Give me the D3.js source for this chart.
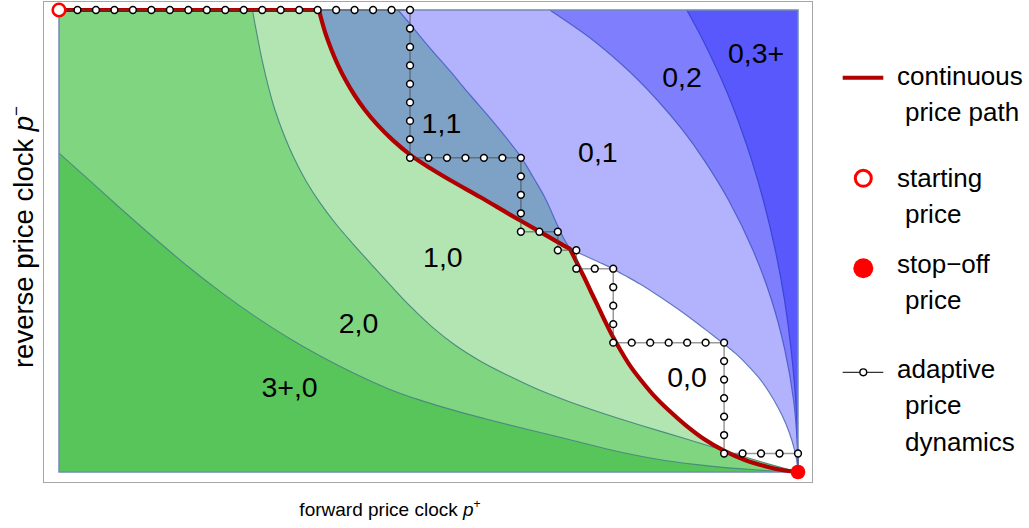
<!DOCTYPE html>
<html><head><meta charset="utf-8">
<script src="https://cdn.jsdelivr.net/npm/d3@7"></script>
<style>
body{margin:0;background:#fff}
svg{display:block}
text{font-family:"Liberation Sans",Arial,Helvetica,sans-serif;fill:#000}
</style>
</head><body>
<svg id="chart" width="1029" height="528"></svg>
<script>
// ---- data (p+ on x: 0..40 clock steps, p- on y: 0..25 clock steps) ----
const xDomain = [0, 40];
const yDomain = [0, 25];

// boundary 3+,0 | 2,0
const boundaryA = [[0,17.26],[1.68,15.75],[3.41,14.19],[5.20,12.62],[6.98,11.12],[8.82,9.69],[10.61,8.42],[12.50,7.21],[14.24,6.22],[16.02,5.31],[17.81,4.51],[19.54,3.89],[21.43,3.32],[23.33,2.81],[25.49,2.27],[27.93,1.68],[30.37,1.08],[32.80,0.62],[35.24,0.32],[37.67,0.12],[40,0]];
// boundary 2,0 | 1,0
const boundaryB = [[10.47,25],[10.72,23.65],[10.99,22.30],[11.31,20.94],[11.69,19.59],[12.18,18.24],[12.72,16.99],[13.37,15.75],[14.13,14.56],[14.99,13.42],[15.97,12.28],[16.94,11.20],[17.97,10.07],[19.05,8.93],[20.19,7.85],[21.43,6.87],[22.79,6.01],[24.25,5.25],[25.87,4.49],[27.66,3.79],[29.55,3.14],[31.61,2.49],[33.78,1.84],[35.89,1.19],[37.94,0.57],[40,0]];
// boundary 1,1 | 0,1
const boundaryD = [[18.35,25],[19.0,24.24],[20.08,22.94],[21.16,21.70],[22.25,20.40],[23.38,19.10],[24.30,17.97],[25.0,17.05],[25.66,15.96],[26.31,14.83],[26.90,13.53],[27.28,12.72],[27.66,12.07]];
// boundary 0,0 | 0,1
const boundaryE = [[27.66,12.07],[28.20,11.82],[28.85,11.53],[29.44,11.26],[29.99,10.99],[30.64,10.63],[31.45,10.17],[32.26,9.66],[33.07,9.12],[33.88,8.55],[34.70,7.93],[35.34,7.44],[36.0,6.93],[36.65,6.39],[37.29,5.76],[37.89,5.09],[38.43,4.33],[38.92,3.49],[39.35,2.60],[39.68,1.68],[39.90,0.81],[40,0]];
// boundary 0,1 | 0,2
const boundaryF = [[26.56,25],[28.89,23.38],[30.79,21.75],[32.38,20.13],[33.75,18.51],[34.92,16.88],[36.24,14.72],[37.56,12.01],[38.57,9.31],[39.29,6.60],[39.76,3.90],[39.95,1.73],[40,0]];
// boundary 0,2 | 0,3+
const boundaryG = [[33.98,25],[34.85,23.38],[35.63,21.75],[36.33,20.13],[36.94,18.51],[37.49,16.88],[38.12,14.72],[38.77,12.01],[39.27,9.31],[39.63,6.60],[39.91,3.35],[40,0]];

// continuous price path
const pathTop = [[0,25],[14.07,25]];
const pathUpper = [[14.07,25],[14.21,24.46],[14.45,23.65],[14.75,22.84],[15.10,22.02],[15.51,21.21],[15.99,20.40],[16.56,19.59],[17.24,18.78],[18.05,17.97],[19.03,17.15],[20.08,16.45],[21.16,15.80],[22.79,14.88],[24.41,13.93],[26.04,12.99],[27.12,12.37],[27.66,12.07]];
const pathLower = [[27.66,12.07],[28.04,11.31],[28.42,10.55],[28.80,9.74],[29.17,8.98],[29.55,8.17],[29.93,7.41],[30.37,6.63],[30.85,5.84],[31.45,5.03],[32.15,4.19],[32.96,3.38],[33.88,2.57],[34.91,1.79],[35.99,1.16],[37.13,0.65],[38.27,0.30],[39.13,0.11],[40,0]];

// adaptive price dynamics (clock steps)
const adaptive = [[0,25],[1,25],[2,25],[3,25],[4,25],[5,25],[6,25],[7,25],[8,25],[9,25],[10,25],[11,25],[12,25],[13,25],[14,25],[15,25],[16,25],[17,25],[18,25],[19,25],
  [19,24],[19,23],[19,22],[19,21],[19,20],[19,19],[19,18],[19,17],
  [20,17],[21,17],[22,17],[23,17],[24,17],[25,17],
  [25,16],[25,15],[25,14],[25,13],[26,13],[27,13],[27,12],[28,12],[28,11],[29,11],[30,11],
  [30,10],[30,9],[30,8],[30,7],[31,7],[32,7],[33,7],[34,7],[35,7],[36,7],
  [36,6],[36,5],[36,4],[36,3],[36,2],[36,1],[37,1],[38,1],[39,1],[40,1],[40,0]];
const startPrice = [0,25];
const stopPrice = [40,0];

const regionNames = ["3+,0","2,0","1,0","1,1","0,0","0,1","0,2","0,3+"];
const regionLabelX = [12.48,16.21,20.78,20.70,33.99,29.17,33.72,37.73];
const regionLabelY = [4.04,7.54,11.09,18.33,4.62,16.79,20.82,22.12];

const legendItems = [["continuous","price path"],["starting","price"],["stop\u2212off","price"],["adaptive","price","dynamics"]];

// ---- drawing ----
const svg = d3.select("#chart");
const x = d3.scaleLinear().domain(xDomain).range([59, 798]);
const y = d3.scaleLinear().domain(yDomain).range([472, 10]);
const gen = d3.line().x(d => x(d[0])).y(d => y(d[1])).curve(d3.curveCatmullRom.alpha(0.5));
const rev = a => a.slice().reverse();
function joined(pieces, close) {
  const s = pieces.map((p, i) => { const g = gen(p); return i === 0 ? g : "L" + g.slice(1); }).join("");
  return close ? s + "Z" : s;
}
const leftEdge = [[0,0],[0,25]];

const col = {"3+,0":"#58c55a","2,0":"#80d580","1,0":"#b3e5b3","1,1":"#7ea2c6","0,0":"#ffffff","0,1":"#b3b3fd","0,2":"#7f7ffd","0,3+":"#5858fd"};

// outer frame
svg.append("rect").attr("x",43.5).attr("y",1.5).attr("width",769).attr("height",481)
  .attr("fill","none").attr("stroke","#a6a6a6").attr("stroke-width",1);

const plot = svg.append("g");
plot.append("rect").attr("x",x(0)).attr("y",y(25)).attr("width",x(40)-x(0)).attr("height",y(0)-y(25)).attr("fill",col["0,3+"]);
plot.append("path").attr("d", joined([leftEdge, boundaryG], true)).attr("fill", col["0,2"]);
plot.append("path").attr("d", joined([leftEdge, boundaryF], true)).attr("fill", col["0,1"]);
plot.append("path").attr("d", joined([pathUpper, rev(boundaryD)], true)).attr("fill", col["1,1"]);
plot.append("path").attr("d", joined([pathLower, rev(boundaryE)], true)).attr("fill", col["0,0"]);
plot.append("path").attr("d", joined([leftEdge, pathTop, pathUpper, pathLower], true)).attr("fill", col["1,0"]);
plot.append("path").attr("d", joined([leftEdge, boundaryB], true)).attr("fill", col["2,0"]);
plot.append("path").attr("d", joined([[[0,0],[0,0]], boundaryA], true)).attr("fill", col["3+,0"]);

// boundary lines
[[boundaryA,"#4a8c7e"],[boundaryB,"#4a8c7e"]].forEach(([b,c]) =>
  plot.append("path").attr("d", gen(b)).attr("fill","none").attr("stroke",c).attr("stroke-width",1.1));
[[boundaryD,"#5268cc"],[boundaryE,"#6079c2"],[boundaryF,"#4f5fcc"],[boundaryG,"#3b46d6"]].forEach(([b,c]) =>
  plot.append("path").attr("d", gen(b)).attr("fill","none").attr("stroke",c).attr("stroke-width",1.2));

// plot border
plot.append("rect").attr("x",x(0)).attr("y",y(25)).attr("width",x(40)-x(0)).attr("height",y(0)-y(25))
  .attr("fill","none").attr("stroke","#7389b6").attr("stroke-width",1.5);

// region labels
regionNames.forEach((n, i) => {
  svg.append("text").attr("x", x(regionLabelX[i])).attr("y", y(regionLabelY[i]))
    .attr("text-anchor","middle").attr("font-size",28.5).text(n);
});

// continuous price path
svg.append("path").attr("d", joined([pathTop, pathUpper, pathLower], false))
  .attr("fill","none").attr("stroke","#b00000").attr("stroke-width",4.2)
  .attr("stroke-linejoin","round").attr("stroke-linecap","round");

// adaptive dynamics
svg.append("path").attr("d", d3.line().x(d=>x(d[0])).y(d=>y(d[1]))(adaptive))
  .attr("fill","none").attr("stroke","rgba(70,70,70,0.55)").attr("stroke-width",1.5);
svg.selectAll("circle.ad").data(adaptive.slice(1, -1)).enter().append("circle").attr("class","ad")
  .attr("cx", d => x(d[0])).attr("cy", d => y(d[1])).attr("r",3.4)
  .attr("fill","#fff").attr("stroke","#000").attr("stroke-width",1.5);

// start & stop
svg.append("circle").attr("cx",x(startPrice[0])).attr("cy",y(startPrice[1])).attr("r",6.3)
  .attr("fill","#fff").attr("stroke","#f00").attr("stroke-width",2.6);
svg.append("circle").attr("cx",x(stopPrice[0])).attr("cy",y(stopPrice[1])).attr("r",7.3).attr("fill","#f00");

// legend
const lg = svg.append("g").attr("font-size",26);
const lgBase = [85, 187, 273, 378];
const lgSymY = [77.7, 178.3, 268.3, 372.3];
legendItems.forEach((lines, i) => {
  lines.forEach((t, j) => {
    lg.append("text").attr("x", j === 0 ? 897 : 905).attr("y", lgBase[i] + j * 36.3).text(t);
  });
});
lg.append("line").attr("x1",842.7).attr("x2",883.3).attr("y1",lgSymY[0]).attr("y2",lgSymY[0]).attr("stroke","#b00000").attr("stroke-width",4);
lg.append("circle").attr("cx",863.3).attr("cy",lgSymY[1]).attr("r",8).attr("fill","#fff").attr("stroke","#f00").attr("stroke-width",3);
lg.append("circle").attr("cx",863.3).attr("cy",lgSymY[2]).attr("r",10).attr("fill","#f00");
lg.append("line").attr("x1",842.7).attr("x2",883.3).attr("y1",lgSymY[3]).attr("y2",lgSymY[3]).attr("stroke","#333").attr("stroke-width",1.2);
lg.append("circle").attr("cx",863.3).attr("cy",lgSymY[3]).attr("r",3.4).attr("fill","#fff").attr("stroke","#000").attr("stroke-width",1.4);

// axis labels
const xl = svg.append("text").attr("x",390).attr("y",515.7).attr("text-anchor","middle").attr("font-size",19);
xl.append("tspan").text("forward price clock ");
xl.append("tspan").attr("font-style","italic").text("p");
xl.append("tspan").attr("font-size",12).attr("dy",-8).text("+");

const yl = svg.append("text").attr("transform","translate(33,237) rotate(-90)").attr("text-anchor","middle").attr("font-size",27.5);
yl.append("tspan").text("reverse price clock ");
yl.append("tspan").attr("font-style","italic").text("p");
yl.append("tspan").attr("font-size",17).attr("dy",-11).text("\u2212");
</script>
</body></html>
